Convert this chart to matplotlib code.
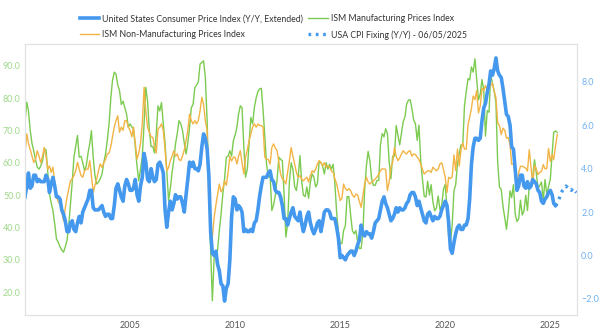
import pandas as pd
import matplotlib
matplotlib.use("Agg")
from matplotlib import pyplot as plt

# ISM manufacturing prices, monthly from 2000-01
ism_mfg = (
    [72.5, 78.7, 76.0, 70.0, 66.0, 63.7, 61.0, 58.6, 58.0, 59.0, 60.5, 64.2] +
    [64.0, 57.0, 50.3, 47.5, 45.2, 41.0, 36.4, 35.4, 34.0, 33.0, 32.3, 34.0] +
    [36.0, 41.0, 47.0, 54.0, 61.7, 65.0, 68.4, 61.7, 62.0, 60.0, 57.5, 59.0] +
    [63.0, 66.0, 69.9, 61.6, 56.0, 53.4, 54.0, 55.0, 56.5, 60.0, 62.7, 66.8] +
    [72.0, 80.0, 85.4, 88.0, 87.4, 84.0, 82.3, 78.0, 79.0, 77.0, 75.0, 71.0] +
    [72.0, 71.0, 70.4, 65.0, 59.0, 54.4, 58.0, 62.0, 72.0, 83.3, 79.0, 70.0] +
    [65.0, 65.0, 63.0, 69.0, 77.6, 76.0, 78.6, 72.0, 66.0, 57.5, 48.3, 52.0] +
    [57.0, 61.0, 65.8, 69.0, 73.0, 72.0, 70.0, 66.0, 62.7, 66.0, 70.9, 77.0] +
    [78.0, 83.3, 84.0, 84.9, 90.5, 91.0, 91.5, 86.4, 73.0, 52.4, 33.0, 17.3] +
    [30.7, 31.8, 33.0, 39.0, 44.0, 50.3, 55.0, 61.7, 62.0, 63.7, 62.0, 66.8] +
    [68.5, 71.0, 75.0, 77.6, 77.0, 65.0, 55.5, 58.0, 66.0, 74.0, 72.0, 77.0] +
    [80.0, 82.0, 82.8, 83.0, 76.5, 68.0, 59.6, 55.5, 56.0, 45.2, 47.0, 50.0] +
    [55.0, 61.7, 61.0, 60.6, 50.3, 37.0, 41.0, 54.0, 60.0, 58.0, 52.5, 51.4] +
    [55.5, 62.2, 54.5, 50.0, 49.5, 52.5, 49.0, 54.0, 56.5, 55.5, 52.5, 53.5] +
    [60.5, 60.0, 59.0, 56.5, 60.0, 58.0, 59.5, 58.0, 59.5, 53.5, 44.5, 38.5] +
    [35.0, 35.0, 39.0, 40.5, 49.5, 49.5, 44.0, 39.0, 38.0, 39.0, 35.5, 33.5] +
    [33.5, 38.5, 51.5, 59.0, 63.5, 60.5, 55.0, 53.0, 53.0, 54.5, 54.5, 65.5] +
    [69.0, 68.0, 70.5, 69.0, 60.5, 55.0, 62.0, 62.0, 71.5, 68.5, 65.5, 69.0] +
    [72.7, 74.2, 78.1, 79.3, 79.5, 76.8, 73.2, 72.1, 66.9, 71.6, 60.7, 54.9] +
    [49.6, 49.4, 54.3, 50.0, 53.2, 47.9, 45.1, 46.0, 49.7, 45.5, 46.7, 51.7] +
    [53.3, 45.9, 37.4, 35.3, 40.8, 51.3, 53.2, 59.5, 62.8, 65.5, 65.4, 77.6] +
    [82.1, 86.0, 85.6, 89.6, 88.0, 92.1, 85.7, 79.4, 81.2, 85.7, 82.4, 68.2] +
    [76.1, 75.6, 87.1, 84.6, 82.2, 78.5, 60.0, 52.5, 51.7, 46.6, 43.0, 39.4] +
    [44.5, 51.3, 49.2, 53.2, 44.2, 41.8, 42.6, 48.4, 43.8, 45.1, 49.9, 45.2] +
    [52.9, 52.5, 55.8, 60.9, 57.0, 52.1, 52.9, 54.0, 48.3, 54.8, 50.3, 52.5] +
    [54.9, 62.4, 69.4, 69.8, 69.4]
)

# ISM non-manufacturing (services) prices, monthly from 2000-01
ism_nonmfg = (
    [62.7, 68.9, 66.0, 64.0, 62.0, 60.1, 61.0, 63.7, 62.0, 60.0, 62.0, 64.7] +
    [62.0, 58.0, 59.0, 57.0, 58.6, 54.0, 49.3, 48.0, 47.0, 45.0, 42.0, 46.0] +
    [49.3, 52.0, 54.4, 55.0, 56.0, 57.5, 60.1, 58.0, 56.0, 55.5, 57.5, 58.0] +
    [58.0, 60.6, 56.0, 50.8, 53.0, 55.0, 57.5, 59.6, 58.5, 60.0, 61.0, 62.7] +
    [63.0, 65.0, 68.0, 71.0, 73.0, 74.5, 69.4, 71.0, 70.0, 73.0, 73.0, 71.0] +
    [70.0, 68.0, 71.0, 66.0, 61.1, 63.0, 66.0, 72.0, 83.3, 76.0, 71.0, 69.4] +
    [68.0, 67.8, 65.0, 63.0, 70.4, 71.0, 72.0, 70.0, 64.0, 57.5, 58.5, 60.6] +
    [62.0, 63.7, 62.0, 62.7, 61.0, 60.6, 62.0, 64.0, 66.8, 70.0, 75.0, 73.0] +
    [72.0, 73.0, 72.0, 73.0, 76.0, 80.2, 78.0, 73.0, 70.0, 48.3, 40.0, 37.0] +
    [43.0, 47.0, 50.0, 53.4, 51.0, 52.0, 54.4, 53.0, 57.0, 62.0, 60.5, 61.7] +
    [61.7, 59.6, 62.0, 63.7, 60.0, 56.5, 61.7, 64.0, 66.8, 68.9, 71.0, 72.0] +
    [71.0, 72.0, 71.5, 71.5, 71.0, 61.7, 61.1, 61.0, 59.6, 64.7, 65.8, 64.5] +
    [63.7, 60.0, 56.5, 55.0, 54.5, 53.4, 57.0, 60.6, 64.7, 62.0, 59.6, 57.0] +
    [55.5, 56.0, 55.0, 54.4, 55.0, 55.5, 54.0, 56.0, 57.5, 57.0, 58.0, 59.6] +
    [60.6, 60.0, 59.0, 60.0, 58.6, 59.0, 58.6, 57.5, 57.0, 55.0, 53.4, 51.0] +
    [48.3, 49.0, 53.4, 52.0, 51.4, 52.0, 51.4, 50.0, 49.3, 50.3, 50.0, 48.0] +
    [46.2, 50.0, 53.4, 55.5, 54.0, 53.4, 54.0, 54.4, 55.0, 55.5, 56.5, 57.5] +
    [58.1, 58.0, 58.0, 51.4, 54.0, 58.6, 60.0, 64.7, 62.0, 60.6, 61.5, 62.7] +
    [63.7, 63.0, 62.7, 63.5, 63.7, 62.0, 62.7, 62.5, 61.7, 61.0, 59.6, 58.0] +
    [56.5, 57.0, 57.5, 57.5, 57.0, 58.6, 58.0, 57.5, 58.0, 59.6, 60.0, 58.0] +
    [55.5, 50.8, 55.5, 55.1, 55.6, 62.4, 57.6, 64.2, 59.0, 63.9, 66.1, 64.2] +
    [64.2, 71.8, 74.0, 76.8, 80.6, 79.5, 82.3, 75.4, 77.5, 82.9, 82.3, 83.9] +
    [82.3, 83.1, 83.8, 84.6, 82.1, 80.1, 72.3, 71.5, 68.7, 70.7, 70.0, 67.6] +
    [67.8, 65.6, 59.5, 59.6, 56.2, 54.1, 56.8, 58.9, 58.9, 58.6, 58.3, 57.4] +
    [64.0, 58.6, 53.4, 59.2, 58.1, 56.3, 57.0, 57.3, 59.4, 58.1, 58.2, 64.4] +
    [60.4, 62.6, 60.9, 65.1, 68.7]
)

# US CPI Y/Y %, monthly from 2000-01
cpi_yoy = (
    [2.7, 3.2, 3.8, 3.1, 3.2, 3.7, 3.7, 3.4, 3.5, 3.4, 3.4, 3.4] +
    [3.7, 3.5, 2.9, 3.3, 3.6, 3.2, 2.7, 2.7, 2.6, 2.1, 1.9, 1.6] +
    [1.1, 1.1, 1.5, 1.6, 1.2, 1.1, 1.5, 1.8, 1.5, 2.0, 2.2, 2.4] +
    [2.6, 3.0, 3.0, 2.2, 2.1, 2.1, 2.1, 2.2, 2.3, 2.0, 1.8, 1.9] +
    [1.9, 1.7, 1.7, 2.3, 3.1, 3.3, 3.0, 2.7, 2.5, 3.2, 3.5, 3.3] +
    [3.0, 3.0, 3.1, 3.5, 2.8, 2.5, 3.2, 3.6, 4.7, 4.3, 3.5, 3.4] +
    [4.0, 3.6, 3.4, 3.5, 4.2, 4.3, 4.1, 3.8, 2.1, 1.3, 2.0, 2.5] +
    [2.1, 2.4, 2.8, 2.6, 2.7, 2.7, 2.4, 2.0, 2.8, 3.5, 4.3, 4.1] +
    [4.3, 4.0, 4.0, 3.9, 4.2, 5.0, 5.6, 5.4, 4.9, 3.7, 1.1, 0.1] +
    [0.0, 0.2, -0.4, -0.7, -1.3, -1.4, -2.1, -1.5, -1.3, -0.2, 1.8, 2.7] +
    [2.6, 2.1, 2.3, 2.2, 2.0, 1.1, 1.2, 1.1, 1.1, 1.2, 1.1, 1.5] +
    [1.6, 2.1, 2.7, 3.2, 3.6, 3.6, 3.6, 3.8, 3.9, 3.5, 3.4, 3.0] +
    [2.9, 2.9, 2.7, 2.3, 1.7, 1.7, 1.4, 1.7, 2.0, 2.2, 1.8, 1.7] +
    [1.6, 2.0, 1.5, 1.1, 1.4, 1.8, 2.0, 1.5, 1.2, 1.0, 1.2, 1.5] +
    [1.6, 1.1, 1.5, 2.0, 2.1, 2.1, 2.0, 1.7, 1.7, 1.7, 1.3, 0.8] +
    [-0.1, 0.0, -0.1, -0.2, 0.0, 0.1, 0.2, 0.2, 0.0, 0.2, 0.5, 0.7] +
    [1.4, 1.0, 0.9, 1.1, 1.0, 1.0, 0.8, 1.1, 1.5, 1.6, 1.7, 2.1] +
    [2.5, 2.7, 2.4, 2.2, 1.9, 1.6, 1.7, 1.9, 2.2, 2.0, 2.2, 2.1] +
    [2.1, 2.2, 2.4, 2.5, 2.8, 2.9, 2.9, 2.7, 2.3, 2.5, 2.2, 1.9] +
    [1.6, 1.5, 1.9, 2.0, 1.8, 1.6, 1.8, 1.7, 1.7, 1.8, 2.1, 2.3] +
    [2.5, 2.3, 1.5, 0.3, 0.1, 0.6, 1.0, 1.3, 1.4, 1.2, 1.2, 1.4] +
    [1.4, 1.7, 2.6, 4.2, 5.0, 5.4, 5.4, 5.3, 5.4, 6.2, 6.8, 7.0] +
    [7.5, 7.9, 8.5, 8.3, 8.6, 9.1, 8.5, 8.3, 8.2, 7.7, 7.1, 6.5] +
    [6.4, 6.0, 5.0, 4.9, 4.0, 3.0, 3.2, 3.7, 3.7, 3.2, 3.1, 3.4] +
    [3.1, 3.2, 3.5, 3.4, 3.3, 3.0, 2.9, 2.5, 2.4, 2.6, 2.7, 2.9] +
    [3.0, 2.8, 2.4, 2.3]
)

# CPI fixing curve, monthly from 2025-04
cpi_fixing = [2.3, 2.4, 2.6, 2.8, 3.0, 3.1, 3.2, 3.1, 3.1, 3.0, 3.1, 3.0, 2.9]

years = [2005, 2010, 2015, 2020, 2025]

plt.rcParams['font.family'] = ['Lato', 'DejaVu Sans']

BLUE = '#4499ee'
GREEN = '#7ccb50'
ORANGE = '#f2b445'

ism_dates = pd.date_range('2000-01-01', periods=len(ism_mfg), freq='MS')
cpi_dates = pd.date_range('2000-01-01', periods=len(cpi_yoy), freq='MS')
fix_dates = pd.date_range('2025-04-01', periods=len(cpi_fixing), freq='MS')

fig = plt.figure(figsize=(6.02, 3.30), dpi=100)
ax = fig.add_axes([25 / 602, 1 - 315 / 330, 552 / 602, 271 / 330])
ax2 = ax.twinx()

l_mfg, = ax.plot(ism_dates, ism_mfg, color=GREEN, lw=1.0, label="ISM Manufacturing Prices Index")
l_non, = ax.plot(ism_dates, ism_nonmfg, color=ORANGE, lw=1.0, label="ISM Non-Manufacturing Prices Index")
l_cpi, = ax2.plot(cpi_dates, cpi_yoy, color=BLUE, lw=2.6, solid_joinstyle='round',
                  label="United States Consumer Price Index (Y/Y, Extended)")
l_fix, = ax2.plot(fix_dates, cpi_fixing, color=BLUE, lw=2.4, linestyle=(0, (0.8, 1.4)),
                  label="USA CPI Fixing (Y/Y) - 06/05/2025")

ax.set_ylim(12.9, 96.7)
ax2.set_ylim(-2.74, 9.74)
ax.set_xlim(pd.Timestamp('2000-01-01'), pd.Timestamp('2026-04-10'))

ax.set_yticks([20, 30, 40, 50, 60, 70, 80, 90])
ax.set_yticklabels(["%.1f" % v for v in [20, 30, 40, 50, 60, 70, 80, 90]])
ax2.set_yticks([-2, 0, 2, 4, 6, 8])
ax2.set_yticklabels(["\u22122.0", "0.0", "2.0", "4.0", "6.0", "8.0"])
ax.set_xticks([pd.Timestamp('%d-01-01' % y) for y in years])
ax.set_xticklabels([str(y) for y in years])

ax.tick_params(axis='y', length=0, pad=3, labelsize=6.5, labelcolor='#9fd88a')
ax2.tick_params(axis='y', length=0, pad=3, labelsize=6.5, labelcolor='#6fb0f0')
ax.tick_params(axis='x', length=0, pad=4, labelsize=6.5, labelcolor='#555555')

for a in (ax, ax2):
    for s in a.spines.values():
        s.set_color('#e2e2e2')
        s.set_linewidth(0.8)

ax2.legend(handles=[l_cpi, l_non, l_mfg, l_fix], ncol=2, loc='lower center',
           bbox_to_anchor=(0.45, 1.01), frameon=False, fontsize=6.3,
           handlelength=2.2, handletextpad=0.35, columnspacing=0.6,
           labelspacing=0.75, borderaxespad=0, borderpad=0.2, labelcolor='#333333')

fig.savefig('out.png', dpi=100)
